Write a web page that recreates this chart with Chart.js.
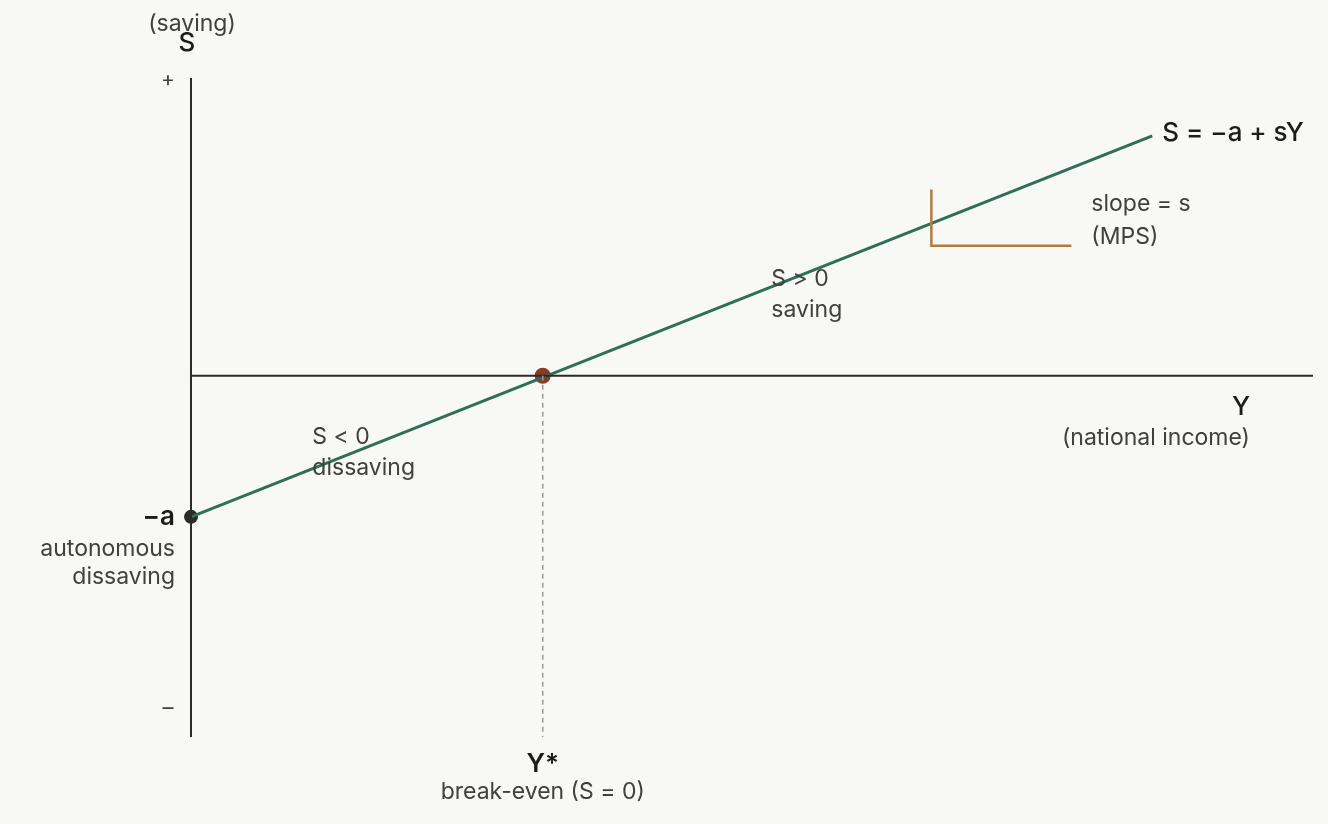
<!DOCTYPE html>
<html>
<head>
<meta charset="utf-8">
<title>Saving function</title>
<script src="https://cdn.jsdelivr.net/npm/chart.js@4.4.1/dist/chart.umd.min.js"></script>
<style>
  html, body { margin: 0; padding: 0; background: #f8f8f6; }
  #wrap { width: 1328px; height: 824px; position: relative; }
</style>
</head>
<body>
<div id="wrap"><canvas id="chart"></canvas></div>
<script>
// ── Data (in model units: Y* = 1, a = 1) ─────────────────────────────────────
const xRange = [0, 3.19];
const sRange = [-2.56, 2.11];

const lineY = [0, 2.733];        // saving function S = -a + sY
const lineS = [-1, 1.70];

const interceptPt = [0, -1];     // -a
const breakEvenPt = [1, 0];      // Y*

const slopeY = [2.105, 2.105, 2.503];   // slope marker
const slopeS = [1.32, 0.922, 0.922];

const COLORS = {
  line:  '#2f6f56',
  axis:  '#2a2a2a',
  dot:   '#8a3b22',
  slope: '#b97b33',
  guide: '#9a9a9a',
  text:  '#404040',
  dark:  '#1c1c1c',
};
const FONT = 'Inter, "Noto Sans", sans-serif';

const pts = (xs, ys) => xs.map((x, i) => ({ x, y: ys[i] }));

// ── Text annotations, anchored to data values ────────────────────────────────
// [text, x, y, dx, dy, align, size, weight, color]
const labels = [
  ['(saving)',            0,    sRange[1],  1, -54, 'center', 23, 400, COLORS.text],
  ['S',                   0,    sRange[1], -4, -35, 'center', 26, 500, COLORS.dark],
  ['+',                   0,    sRange[1], -23,  2, 'center', 21, 400, COLORS.text],
  ['\u2013',              0,    sRange[0], -23, -29, 'center', 22, 400, COLORS.text],
  ['S = \u2212a + sY',    lineY[1], lineS[1], 10, -3, 'left', 26, 500, COLORS.dark],
  ['slope = s',           2.503, 1.32, 20, 15, 'left', 23, 400, COLORS.text],
  ['(MPS)',               2.503, 1.32, 20, 48, 'left', 23, 400, COLORS.text],
  ['S > 0',               1.65, 0,  0, -97, 'left', 23, 400, COLORS.text],
  ['saving',              1.65, 0,  0, -66, 'left', 23, 400, COLORS.text],
  ['S < 0',               0.345, 0, 0,  61, 'left', 23, 400, COLORS.text],
  ['dissaving',           0.345, 0, 0,  92, 'left', 23, 400, COLORS.text],
  ['Y',                   xRange[1], 0, -72, 31, 'center', 26, 500, COLORS.dark],
  ['(national income)',   xRange[1], 0, -63, 62, 'right', 23, 400, COLORS.text],
  ['\u2212a',             0, -1, -16, 0, 'right', 26, 600, COLORS.dark],
  ['autonomous',          0, -1, -16, 32, 'right', 23, 400, COLORS.text],
  ['dissaving',           0, -1, -16, 60, 'right', 23, 400, COLORS.text],
  ['Y*',                  1, sRange[0], 0, 27, 'center', 26, 600, COLORS.dark],
  ['break-even (S = 0)',  1, sRange[0], 0, 55, 'center', 23, 400, COLORS.text],
];

const labelPlugin = {
  id: 'labels',
  afterDatasetsDraw(chart) {
    const { ctx, scales: { x, y } } = chart;
    ctx.save();
    ctx.textBaseline = 'middle';
    labels.forEach(([t, vx, vy, dx, dy, align, size, weight, color]) => {
      ctx.font = `${weight} ${size}px ${FONT}`;
      ctx.fillStyle = color;
      ctx.textAlign = align;
      ctx.fillText(t, x.getPixelForValue(vx) + dx, y.getPixelForValue(vy) + dy);
    });
    ctx.restore();
  },
};

const bgPlugin = {
  id: 'bg',
  beforeDraw(chart) {
    const { ctx, width, height } = chart;
    ctx.save();
    ctx.fillStyle = '#f8f8f6';
    ctx.fillRect(0, 0, width, height);
    ctx.restore();
  },
};

const lineDs = (data, color, width, extra = {}) => ({
  data, borderColor: color, borderWidth: width, showLine: true, clip: false,
  pointRadius: 0, pointHoverRadius: 0, fill: false, tension: 0, ...extra,
});

const dotDs = (pt, r, color) => ({
  data: pts([pt[0]], [pt[1]]), pointRadius: r, pointHoverRadius: r,
  backgroundColor: color, borderWidth: 0, clip: false,
});

new Chart(document.getElementById('chart'), {
  type: 'scatter',
  data: {
    datasets: [
      lineDs(pts([breakEvenPt[0], breakEvenPt[0]], [0, sRange[0]]), COLORS.guide, 1.5, { borderDash: [5, 4] }),
      lineDs(pts([0, xRange[1]], [0, 0]), COLORS.axis, 2),
      lineDs(pts([0, 0], sRange), COLORS.axis, 2),
      lineDs(pts(slopeY, slopeS), COLORS.slope, 2.5),
      lineDs(pts(lineY, lineS), COLORS.line, 3),
      dotDs(interceptPt, 7, COLORS.axis),
      dotDs(breakEvenPt, 8, COLORS.dot),
    ],
  },
  options: {
    responsive: true,
    maintainAspectRatio: false,
    animation: false,
    layout: { padding: { left: 191, right: 15, top: 78, bottom: 87 } },
    plugins: { legend: { display: false }, tooltip: { enabled: false } },
    scales: {
      x: { type: 'linear', min: xRange[0], max: xRange[1], display: false },
      y: { type: 'linear', min: sRange[0], max: sRange[1], display: false },
    },
  },
  plugins: [bgPlugin, labelPlugin],
});
</script>
</body>
</html>
